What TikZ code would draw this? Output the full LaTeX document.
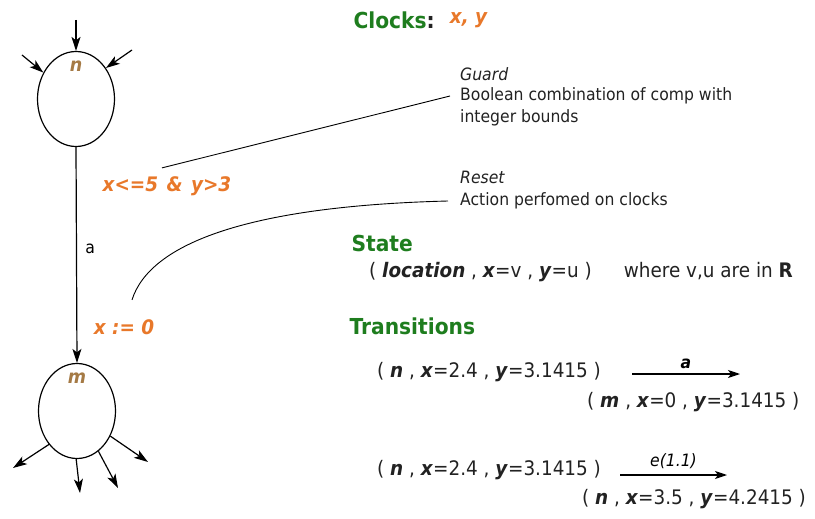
\documentclass[tikz,border=0pt]{standalone}
\usepackage{fontspec}
\setmainfont{DejaVu Sans}[FakeStretch=0.92]
\usetikzlibrary{arrows.meta, shapes.geometric, positioning}
\definecolor{headgreen}{HTML}{1E7D1E}
\definecolor{clockorange}{HTML}{E8782A}
\definecolor{locbrown}{HTML}{A57A45}
\definecolor{inkdark}{HTML}{222222}
\newcommand{\bv}[1]{\textbf{\textit{#1}}}

\begin{document}
\begin{tikzpicture}[
    x=1pt, y=-1pt,
    >={Stealth[length=14pt, width=9pt, inset=3.5pt]},
    location/.style={draw, ellipse, line width=1.2pt, minimum width=77pt, minimum height=95pt, inner sep=0pt},
    locname/.style={font=\fontsize{19}{22}\selectfont\bfseries\itshape, text=locbrown},
    edge/.style={->, line width=1.2pt},
    clocktext/.style={font=\fontsize{20}{24}\selectfont\bfseries\itshape, text=clockorange},
    heading/.style={anchor=west, font=\fontsize{22}{26}\selectfont\bfseries, text=headgreen},
    note/.style={anchor=west, font=\fontsize{17}{20}\selectfont, text=inkdark, inner sep=0pt},
    tuple/.style={anchor=west, font=\fontsize{20}{24}\selectfont, text=inkdark, inner sep=0pt},
    leader/.style={line width=0.9pt},
    transarrow/.style={->, line width=1.1pt, >={Stealth[length=12pt, width=8pt, inset=3pt]}}
]

\useasboundingbox (0,0) rectangle (815,519);

% 1. Locations n and m
\node[location] (locn) at (76,99) {};
\node[location] (locm) at (77,411) {};
\node[locname, below=6pt of locn.north] (nname) {n};
\node[locname, below=6pt of locm.north] (mname) {m};

% 2. Incoming and outgoing edges
\coordinate (inTop) at (76,20);
\coordinate (inLeft) at (22,55);
\coordinate (inRight) at (132,50);
\draw[edge] (inTop) -- (locn.north);
\draw[edge] (inLeft) -- (locn.141);
\draw[edge] (inRight) -- (locn.46);

\foreach \ang/\px/\py in {230/13/468, 269/80/493, 298/118/488, 323/148/462} {
    \coordinate (out\ang) at (\px,\py);
    \draw[edge] (locm.\ang) -- (out\ang);
}

% 3. Transition n -> m
\draw[edge] (locn.south) -- (locm.north) node[pos=0.47, right=5pt, font=\fontsize{17}{20}\selectfont] (actlbl) {a};
\node[clocktext] (guardlbl) at (167,186) {x<=5\hspace{2pt} \&\hspace{2pt} y>3};
\node[clocktext] (resetlbl) at (124,327) {x := 0};

% 4. Guard and reset notes
\node[note, font=\fontsize{17}{20}\selectfont\itshape] (guardname) at (460,74) {Guard};
\node[note] (guardline1) at (460,96) {Boolean combination of comp with};
\node[note] (guardline2) at (460,118) {integer bounds};
\node[note, font=\fontsize{17}{20}\selectfont\itshape] (resetname) at (460,177) {Reset};
\node[note] (resetline1) at (460,201) {Action perfomed on clocks};

\draw[leader] ([xshift=-5pt, yshift=5pt]guardlbl.north) -- ([xshift=-10pt]guardline1.west);
\draw[leader] ([xshift=8pt, yshift=16pt]resetlbl.north) .. controls +(18,-57) and +(-198,5) .. ([xshift=-12pt]resetline1.west);

% 5. Clocks, state and transitions
\node[heading] (clockshead) at (350,20) {Clocks{\color{inkdark}:}};
\node[clocktext, right=8pt of clockshead] (clockvars) {x, y};

\node[heading] (statehead) at (348,243) {State};
\node[tuple] (statetuple) at (369,272) {( \bv{location} , \bv{x}=v , \bv{y}=u )\hspace{32pt}where v,u are in $\mathbf{R}$};

\node[heading] (transhead) at (346,326) {Transitions};
\node[tuple] (srcA) at (377,372) {( \bv{n} , \bv{x}=2.4 , \bv{y}=3.1415 )};
\node[tuple] (dstA) at (587,402) {( \bv{m} , \bv{x}=0 , \bv{y}=3.1415 )};
\coordinate (arrA) at (632,374);
\draw[transarrow] (arrA) -- ++(108,0) node[midway, above=1pt, font=\fontsize{17}{20}\selectfont\bfseries\itshape] (labA) {a};

\node[tuple] (srcB) at (377,470) {( \bv{n} , \bv{x}=2.4 , \bv{y}=3.1415 )};
\node[tuple] (dstB) at (582,499) {( \bv{n} , \bv{x}=3.5 , \bv{y}=4.2415 )};
\coordinate (arrB) at (620,475);
\draw[transarrow] (arrB) -- ++(107,0) node[midway, above=2pt, font=\fontsize{17}{20}\selectfont\itshape] (labB) {e(1.1)};

\end{tikzpicture}
\end{document}
